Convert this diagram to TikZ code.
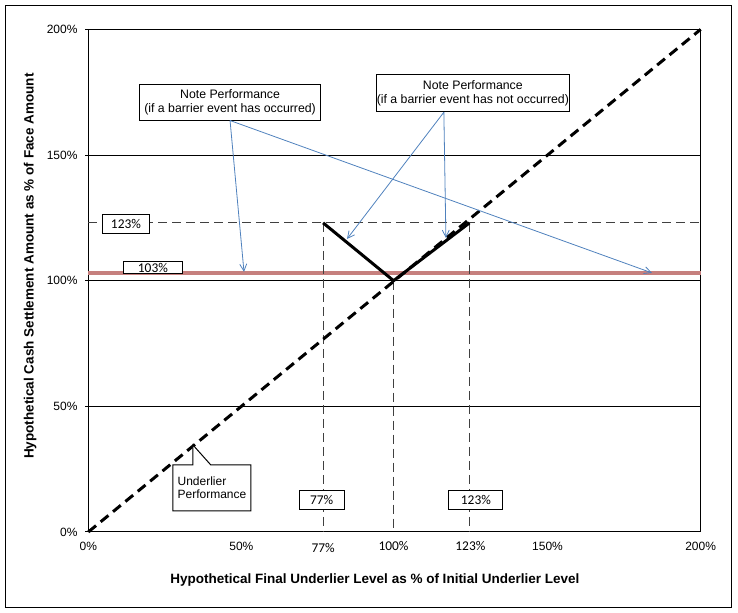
\documentclass[tikz,border=0pt]{standalone}
\usepackage{fontspec}
\setmainfont{Liberation Sans}
\newfontfamily\calib{Carlito}
\usetikzlibrary{arrows.meta,shapes.callouts}
\definecolor{barrierred}{RGB}{198,128,126}
\definecolor{notearrow}{RGB}{79,129,189}
\tikzset{eframe/.style={line width=1pt,black}}
\tikzset{ediag/.style={line width=3pt,dash pattern=on 10pt off 6pt,black}}
\tikzset{epay/.style={line width=3pt,black,line join=miter}}
\tikzset{ebarrier/.style={line width=3.5pt,barrierred}}
\tikzset{ehelp/.style={line width=1pt,dash pattern=on 9pt off 5pt,black!75}}
\tikzset{earrow/.style={-{Straight Barb[length=7pt,width=7pt]},notearrow,line width=0.8pt}}
\tikzset{ebox/.style={draw,fill=white,line width=1pt,inner sep=0pt,font=\calib\fontsize{13.4}{15}\selectfont}}
\tikzset{enote/.style={draw,fill=white,line width=1pt,align=center,inner sep=0pt,font=\fontsize{12.3}{13.8}\selectfont}}
\tikzset{etick/.style={inner sep=0pt,font=\fontsize{12}{14}\selectfont}}
\tikzset{etitle/.style={inner sep=0pt,font=\bfseries\fontsize{13.5}{15}\selectfont}}

\begin{document}
\begin{tikzpicture}[x=3.062pt,y=2.513pt]
        \useasboundingbox (-28.84,-32.23) rectangle (212.2,211.7);
        % draw the outer frame
        \draw[eframe] (-27.2,-30.24) rectangle (210.2,209.7);
        % draw the grid and the axis
        \foreach \y in {0,50,...,200} {
            \draw[eframe] (-1,\y) -- (200,\y);
            \node[etick,anchor=east] (ytick\y) at (-3.46,\y) {\y\%};
        }
        \draw[eframe] (0,0) -- (0,200);
        \draw[eframe] (200,0) -- (200,200);
        \foreach \x in {0,50,150,200}
            \node[etick] (xtick\x) at (\x,-5.6) {\x\%};
        \node[etick,font=\calib\fontsize{13.4}{15}\selectfont] (xtick77) at (76.7,-6.4) {77\%};
        \node[etick,font=\calib\fontsize{13.4}{15}\selectfont] (xtick100) at (99.7,-5.4) {100\%};
        \node[etick,font=\calib\fontsize{13.4}{15}\selectfont] (xtick123) at (124.8,-5.4) {123\%};
        \node[etitle,rotate=90] (ytitle) at (-19,105.8) {Hypothetical Cash Settlement Amount as \% of Face Amount};
        \node[etitle] (xtitle) at (93.6,-19.1) {Hypothetical Final Underlier Level as \% of Initial Underlier Level};

        % points of the payoff
        \coordinate (orig) at (0,0);
        \coordinate (corner) at (200,200);
        \coordinate (vleft) at (76.7,123);
        \coordinate (vlow) at (99.7,100);
        \coordinate (vright) at (124.5,123);

        % barrier level and helper lines
        \draw[ebarrier] (0,103) -- (200,103);
        \draw[ehelp] (0,123) -- (200,123);
        \draw[ehelp] (vleft) -- (76.7,0);
        \draw[ehelp] (vlow) -- (99.7,0);
        \draw[ehelp] (vright) -- (124.5,0);

        % underlier and note performance
        \draw[ediag] (orig) -- (corner);
        \draw[epay] (vleft) -- (vlow) -- (vright);

        % the labels
        \node[ebox,minimum width=47pt,minimum height=19pt] (lab123) at (12.3,122.6) {123\%};
        \node[ebox,minimum width=59pt,minimum height=12pt] (lab103) at (21.1,105.2) {103\%};
        \node[ebox,minimum width=45pt,minimum height=19pt] (lab77) at (76.2,12.9) {77\%};
        \node[ebox,minimum width=54pt,minimum height=19pt] (labhigh) at (126.6,12.9) {123\%};

        \node[enote,minimum width=181pt,minimum height=36pt] (noteyes) at (46.3,171.1) {Note Performance\\(if a barrier event has occurred)};
        \node[enote,minimum width=193pt,minimum height=37pt] (noteno) at (125.6,174.6) {Note Performance\\(if a barrier event has not occurred)};

        \coordinate (noteno-foot) at ([xshift=-29pt]noteno.south);
        \coordinate (hitA) at (50.85,103.5);
        \coordinate (hitB) at (184.1,103.1);
        \coordinate (hitC) at (84.5,116.6);
        \coordinate (hitD) at (116.8,117.0);
        \draw[earrow] (noteyes.south) -- (hitA);
        \draw[earrow] (noteyes.south) -- (hitB);
        \draw[earrow] (noteno-foot) -- (hitC);
        \draw[earrow] (noteno-foot) -- (hitD);

        \coordinate (tipu) at (34.2,34.6);
        \node[rectangle callout,draw,fill=white,line width=1pt,minimum width=78pt,minimum height=46pt,
              align=left,inner sep=0pt,font=\fontsize{12}{13.3}\selectfont,
              callout absolute pointer=(tipu),callout pointer width=18pt] (under) at (40.4,17.5) {Underlier\\Performance};
    \end{tikzpicture}
\end{document}
